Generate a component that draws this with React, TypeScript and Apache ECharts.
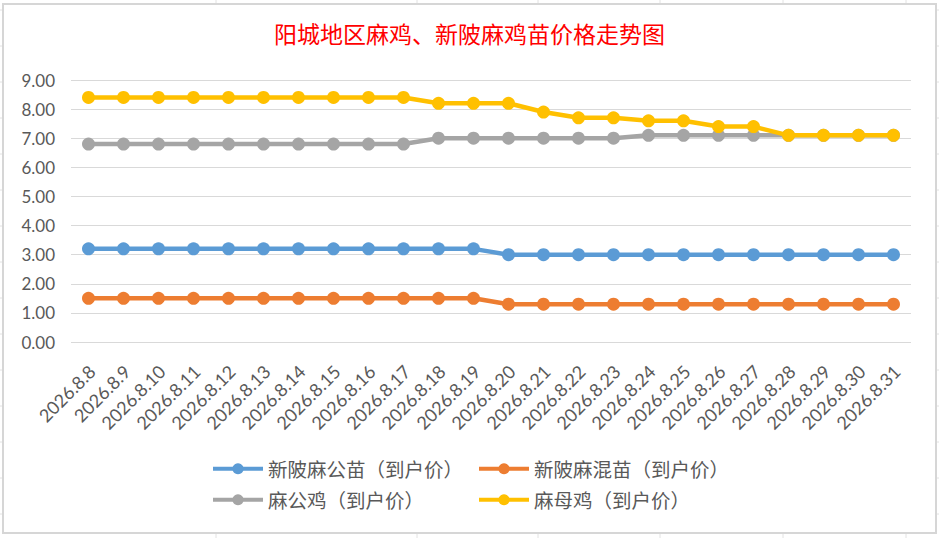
import React, { useEffect, useRef } from "react";
import * as echarts from "echarts";

const dates = [
  "2026.8.8", "2026.8.9", "2026.8.10", "2026.8.11", "2026.8.12", "2026.8.13",
  "2026.8.14", "2026.8.15", "2026.8.16", "2026.8.17", "2026.8.18", "2026.8.19",
  "2026.8.20", "2026.8.21", "2026.8.22", "2026.8.23", "2026.8.24", "2026.8.25",
  "2026.8.26", "2026.8.27", "2026.8.28", "2026.8.29", "2026.8.30", "2026.8.31",
];

const maleChickSeedling = [3.2, 3.2, 3.2, 3.2, 3.2, 3.2, 3.2, 3.2, 3.2, 3.2, 3.2, 3.2, 3.0, 3.0, 3.0, 3.0, 3.0, 3.0, 3.0, 3.0, 3.0, 3.0, 3.0, 3.0];
const mixedChickSeedling = [1.5, 1.5, 1.5, 1.5, 1.5, 1.5, 1.5, 1.5, 1.5, 1.5, 1.5, 1.5, 1.3, 1.3, 1.3, 1.3, 1.3, 1.3, 1.3, 1.3, 1.3, 1.3, 1.3, 1.3];
const roosterPrice = [6.8, 6.8, 6.8, 6.8, 6.8, 6.8, 6.8, 6.8, 6.8, 6.8, 7.0, 7.0, 7.0, 7.0, 7.0, 7.0, 7.1, 7.1, 7.1, 7.1, 7.1, 7.1, 7.1, 7.1];
const henPrice = [8.4, 8.4, 8.4, 8.4, 8.4, 8.4, 8.4, 8.4, 8.4, 8.4, 8.2, 8.2, 8.2, 7.9, 7.7, 7.7, 7.6, 7.6, 7.4, 7.4, 7.1, 7.1, 7.1, 7.1];

const seriesNames = ["新陂麻公苗（到户价）", "新陂麻混苗（到户价）", "麻公鸡（到户价）", "麻母鸡（到户价）"];
const seriesColors = ["#5B9BD5", "#ED7D31", "#A5A5A5", "#FFC000"];
const seriesData = [maleChickSeedling, mixedChickSeedling, roosterPrice, henPrice];

const titleText = "阳城地区麻鸡、新陂麻鸡苗价格走势图";

export default function App() {
  const ref = useRef<HTMLDivElement>(null);

  useEffect(() => {
    document.body.style.margin = "0";
    if (!ref.current) return;
    const chart = echarts.init(ref.current, undefined, { renderer: "svg" });

    const sheetLines: any[] = [];
    for (let k = 0; k < 15; k++) {
      const y = 10 + 36 * k;
      sheetLines.push({ type: "line", shape: { x1: 0, y1: y, x2: 2, y2: y }, style: { stroke: "#e2e2e2", lineWidth: 1 } });
      sheetLines.push({ type: "line", shape: { x1: 937, y1: y, x2: 939, y2: y }, style: { stroke: "#e2e2e2", lineWidth: 1 } });
    }
    [216, 417, 538, 660, 783, 906].forEach((x) => {
      sheetLines.push({ type: "line", shape: { x1: x, y1: 0, x2: x, y2: 3 }, style: { stroke: "#e2e2e2", lineWidth: 1 } });
      sheetLines.push({ type: "line", shape: { x1: x, y1: 534, x2: x, y2: 538 }, style: { stroke: "#e2e2e2", lineWidth: 1 } });
    });

    const legendPos = [
      { left: 211, top: 459 },
      { left: 477, top: 459 },
      { left: 211, top: 490 },
      { left: 477, top: 490 },
    ];

    chart.setOption({
      animation: false,
      backgroundColor: "#ffffff",
      title: {
        text: titleText,
        left: "center",
        top: 21,
        padding: 0,
        textStyle: {
          color: "#ff0000",
          fontSize: 23,
          fontWeight: "normal",
          fontFamily: "Noto Sans CJK SC",
        },
      },
      legend: seriesNames.map((name, i) => ({
        data: [name],
        left: legendPos[i].left,
        top: legendPos[i].top,
        padding: 0,
        itemWidth: 50,
        itemHeight: 14,
        itemGap: 5,
        lineStyle: { width: 4 },
        textStyle: {
          color: "#595959",
          fontSize: 19.5,
          fontFamily: "Noto Sans CJK SC",
        },
      })),
      grid: { left: 71, right: 28, top: 80, bottom: 196, containLabel: false },
      xAxis: {
        type: "category",
        data: dates,
        boundaryGap: true,
        axisLine: { show: false },
        axisTick: { show: false },
        axisLabel: {
          interval: 0,
          rotate: 45,
          margin: 17,
          verticalAlign: "top",
          padding: [0, 4, 0, 0],
          color: "#595959",
          fontSize: 18,
          fontFamily: "Lato",
        },
      },
      yAxis: {
        type: "value",
        min: 0,
        max: 9,
        interval: 1,
        axisLine: { show: false },
        axisTick: { show: false },
        axisLabel: {
          formatter: (v: number) => v.toFixed(2),
          color: "#595959",
          fontSize: 17,
          fontFamily: "Lato",
          margin: 16,
        },
        splitLine: { lineStyle: { color: "#d9d9d9", width: 1.2 } },
      },
      series: seriesNames.map((name, i) => ({
        name,
        type: "line",
        data: seriesData[i],
        symbol: "circle",
        symbolSize: 13,
        color: seriesColors[i],
        lineStyle: { width: 4.5, color: seriesColors[i] },
        itemStyle: { color: seriesColors[i] },
        z: 2 + i,
      })),
      graphic: [
        ...sheetLines,
        {
          type: "rect",
          shape: { x: 3, y: 4, width: 933, height: 529 },
          style: { fill: "none", stroke: "#d6d6d6", lineWidth: 2 },
          silent: true,
          z: -1,
        },
      ],
    });

    return () => chart.dispose();
  }, []);

  return <div ref={ref} style={{ width: 939, height: 538 }} />;
}
